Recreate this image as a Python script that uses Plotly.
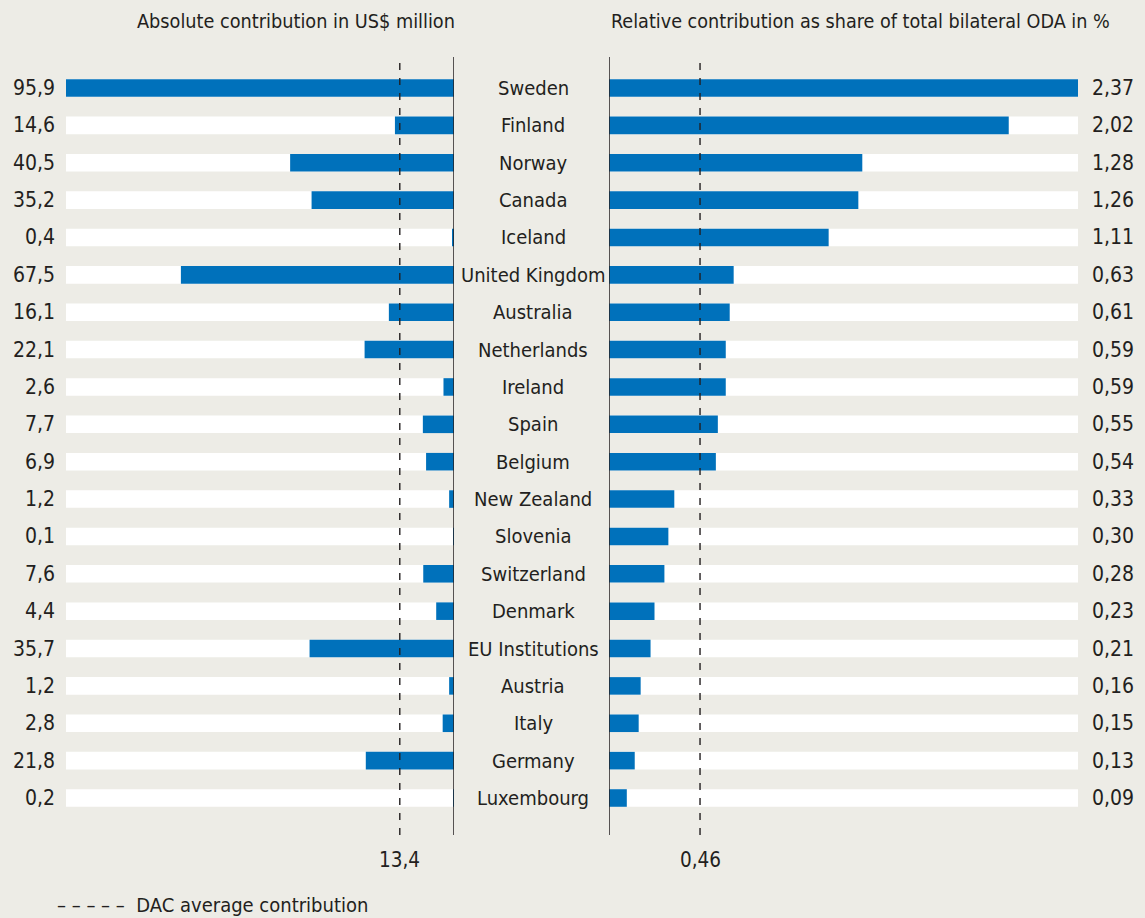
import plotly.graph_objects as go

countries = ["Sweden", "Finland", "Norway", "Canada", "Iceland", "United Kingdom",
             "Australia", "Netherlands", "Ireland", "Spain", "Belgium", "New Zealand",
             "Slovenia", "Switzerland", "Denmark", "EU Institutions", "Austria", "Italy",
             "Germany", "Luxembourg"]
absolute = [95.9, 14.6, 40.5, 35.2, 0.4, 67.5, 16.1, 22.1, 2.6, 7.7, 6.9, 1.2, 0.1,
            7.6, 4.4, 35.7, 1.2, 2.8, 21.8, 0.2]
relative = [2.37, 2.02, 1.28, 1.26, 1.11, 0.63, 0.61, 0.59, 0.59, 0.55, 0.54, 0.33,
            0.30, 0.28, 0.23, 0.21, 0.16, 0.15, 0.13, 0.09]
dac_avg_abs = 13.4
dac_avg_rel = 0.46

title_left = "Absolute contribution in US$ million"
title_right = "Relative contribution as share of total bilateral ODA in %"
legend_text = "– – – – –  DAC average contribution"

FONT = "Liberation Sans Narrow, DejaVu Sans Condensed, Arial Narrow, sans-serif"
BG = "#EDECE6"
BLUE = "#0071BB"
TXT = "#231F20"
W, H = 1145, 918

def fmt(v, d):
    return f"{v:.{d}f}".replace(".", ",")

max_abs = max(absolute)
max_rel = max(relative)
bw = 0.47

fig = go.Figure()
# white background bars
fig.add_trace(go.Bar(y=countries, x=[max_abs] * len(countries), orientation="h",
                     marker=dict(color="white", line=dict(width=0)), width=bw,
                     xaxis="x", yaxis="y", hoverinfo="skip", showlegend=False))
fig.add_trace(go.Bar(y=countries, x=absolute, orientation="h",
                     marker=dict(color=BLUE, line=dict(width=0)), width=bw,
                     xaxis="x", yaxis="y", showlegend=False))
fig.add_trace(go.Bar(y=countries, x=[max_rel] * len(countries), orientation="h",
                     marker=dict(color="white", line=dict(width=0)), width=bw,
                     xaxis="x2", yaxis="y2", hoverinfo="skip", showlegend=False))
fig.add_trace(go.Bar(y=countries, x=relative, orientation="h",
                     marker=dict(color=BLUE, line=dict(width=0)), width=bw,
                     xaxis="x2", yaxis="y2", showlegend=False))

ydom = [1 - 835 / H, 1 - 57 / H]
yrange = [len(countries) - 1 + 0.99, -0.83]

fig.update_layout(
    width=W, height=H,
    margin=dict(l=0, r=0, t=0, b=0),
    paper_bgcolor=BG, plot_bgcolor=BG,
    barmode="overlay",
    font=dict(family=FONT, size=20, color=TXT),
    xaxis=dict(domain=[66 / W, 454 / W], range=[max_abs, 0], visible=False, fixedrange=True),
    xaxis2=dict(domain=[609 / W, 1078 / W], range=[0, max_rel], visible=False, fixedrange=True),
    yaxis=dict(domain=ydom, range=yrange, type="category", categoryorder="array",
               categoryarray=countries, visible=False, anchor="x"),
    yaxis2=dict(domain=ydom, range=yrange, type="category", categoryorder="array",
                categoryarray=countries, visible=False, anchor="x2"),
    showlegend=False,
)

shapes = []
for xr, yr in (("x", "y"), ("x2", "y2")):
    shapes.append(dict(type="line", xref=xr, yref=yr + " domain",
                       x0=0, x1=0, y0=0, y1=1, line=dict(color=TXT, width=1.5)))
shapes.append(dict(type="line", xref="x", yref="y domain", x0=dac_avg_abs, x1=dac_avg_abs,
                   y0=0, y1=1, line=dict(color=TXT, width=1.4, dash="7px,8px")))
shapes.append(dict(type="line", xref="x2", yref="y2 domain", x0=dac_avg_rel, x1=dac_avg_rel,
                   y0=0, y1=1, line=dict(color=TXT, width=1.4, dash="7px,8px")))
fig.update_layout(shapes=shapes)

ann = []
mid = 533 / W
for c, a, r in zip(countries, absolute, relative):
    ann.append(dict(x=mid, xref="paper", y=c, yref="y", text=c, showarrow=False,
                    xanchor="center", yanchor="middle", font=dict(size=20)))
    ann.append(dict(x=max_abs, xref="x", y=c, yref="y", text=fmt(a, 1), showarrow=False,
                    xanchor="right", yanchor="middle", xshift=-9, font=dict(size=21)))
    ann.append(dict(x=max_rel, xref="x2", y=c, yref="y2", text=fmt(r, 2), showarrow=False,
                    xanchor="left", yanchor="middle", xshift=12, font=dict(size=21)))
ann.append(dict(x=296 / W, xref="paper", y=1 - 22 / H, yref="paper",
                text=title_left, showarrow=False, xanchor="center", yanchor="middle", font=dict(size=19.7)))
ann.append(dict(x=860 / W, xref="paper", y=1 - 22 / H, yref="paper",
                text=title_right, showarrow=False, xanchor="center", yanchor="middle", font=dict(size=19.6)))
ann.append(dict(x=dac_avg_abs, xref="x", y=1 - 860 / H, yref="paper", text=fmt(dac_avg_abs, 1),
                showarrow=False, xanchor="center", yanchor="middle", font=dict(size=20.5)))
ann.append(dict(x=dac_avg_rel, xref="x2", y=1 - 860 / H, yref="paper", text=fmt(dac_avg_rel, 2),
                showarrow=False, xanchor="center", yanchor="middle", font=dict(size=20.5)))
ann.append(dict(x=55 / W, xref="paper", y=1 - 905 / H, yref="paper", text=legend_text,
                showarrow=False, xanchor="left", yanchor="middle", font=dict(size=20)))
fig.update_layout(annotations=ann)

post = ("document.body.style.margin='0';document.body.style.padding='0';"
        "document.body.style.overflow='hidden';"
        "document.body.style.background='" + BG + "';")
fig.write_html("out.html", config={"displayModeBar": False}, post_script=post)
